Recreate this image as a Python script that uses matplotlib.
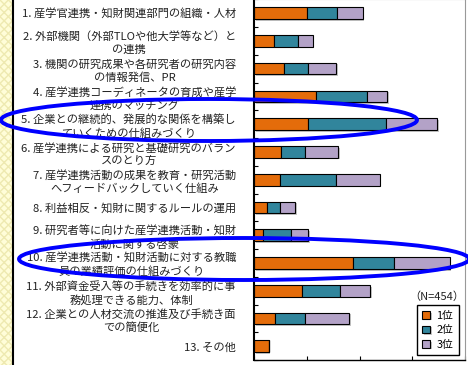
import numpy as np
import matplotlib
matplotlib.use('Agg')
import matplotlib.pyplot as plt
import matplotlib.patches as mpatches
import matplotlib.patheffects as pe
from matplotlib.lines import Line2D

plt.rcParams['font.family'] = ['Noto Sans CJK JP', 'DejaVu Sans']

# ---- data (percent of N=454) ----
labels = [
    '1. 産学官連携・知財関連部門の組織・人材',
    '2. 外部機関（外部TLOや他大学等など）と\nの連携',
    '3. 機関の研究成果や各研究者の研究内容\nの情報発信、PR',
    '4. 産学連携コーディネータの育成や産学\n連携のマッチング',
    '5. 企業との継続的、発展的な関係を構築し\nていくための仕組みづくり',
    '6. 産学連携による研究と基礎研究のバラン\nスのとり方',
    '7. 産学連携活動の成果を教育・研究活動\nへフィードバックしていく仕組み',
    '8. 利益相反・知財に関するルールの運用',
    '9. 研究者等に向けた産学連携活動・知財\n活動に関する啓蒙',
    '10. 産学連携活動・知財活動に対する教職\n員の業績評価の仕組みづくり',
    '11. 外部資金受入等の手続きを効率的に事\n務処理できる能力、体制',
    '12. 企業との人材交流の推進及び手続き面\nでの簡便化',
    '13. その他',
]
rank1 = [10.1, 3.7, 5.7, 11.7, 10.2, 5.1, 4.9, 2.5, 1.7, 18.8, 9.1, 4.0, 2.8]
rank2 = [5.7, 4.6, 4.5, 9.7, 14.9, 4.6, 10.6, 2.5, 5.3, 7.7, 7.2, 5.6, 0.0]
rank3 = [4.8, 2.8, 5.4, 3.9, 9.6, 6.2, 8.3, 2.8, 3.3, 10.6, 5.7, 8.5, 0.0]
series_names = ['1位', '2位', '3位']
colors = ['#E46C0A', '#31859C', '#B3A2C7']
n_text = '（N=454）'

W, H = 468, 365
fig = plt.figure(figsize=(W / 100, H / 100), dpi=100)
fig.patch.set_facecolor('white')

# yellow hatched strip on the far left + black border line
strip = mpatches.Rectangle((0, 0), 12 / W, 1, transform=fig.transFigure,
                           facecolor='#FFFDD8', edgecolor='#EEE9B0',
                           hatch='xxxx', lw=0, zorder=0)
fig.add_artist(strip)
fig.add_artist(Line2D([12.5 / W] * 2, [0, 1], transform=fig.transFigure,
                      color='black', lw=1.5))

ax = fig.add_axes([254 / W, 4.8 / H, 211 / W, 361 / H])

y = np.arange(len(labels))
left = np.zeros(len(labels))
shadow = [pe.SimplePatchShadow(offset=(1.2, -1.2), shadow_rgbFace='gray', alpha=0.45), pe.Normal()]
for vals, c, name in zip([rank1, rank2, rank3], colors, series_names):
    vals = np.array(vals)
    ax.barh(y, vals, left=left, height=0.42, color=c, edgecolor='black',
            lw=0.8, label=name, path_effects=shadow)
    left += vals

ax.set_ylim(len(labels) - 0.5, -0.5)
ax.set_xlim(0, 40)
ax.set_yticks(y)
ax.set_yticklabels(labels, fontsize=8.1, color='#222222', linespacing=1.3)
for t in ax.get_yticklabels():
    t.set_multialignment('center')
ax.tick_params(axis='y', which='major', length=0, pad=13)
ax.set_yticks(np.arange(-0.5, len(labels), 1), minor=True)
ax.tick_params(axis='y', which='minor', direction='in', length=3, width=0.8)
ax.set_xticks(range(0, 41, 10))
ax.tick_params(axis='x', direction='in', length=3, width=0.8, labelbottom=False)

ax.spines['left'].set_linewidth(1.5)
ax.spines['bottom'].set_linewidth(1.0)
ax.spines['right'].set_color('#999999')
ax.spines['top'].set_color('#999999')

ax.legend(loc='upper left', bbox_to_anchor=(417 / W, 1 - 305 / H),
          bbox_transform=fig.transFigure, fontsize=7.8, frameon=True,
          fancybox=False, edgecolor='black', framealpha=1, borderpad=0.5,
          handlelength=0.7, handleheight=0.7, handletextpad=0.6,
          labelspacing=0.42, borderaxespad=0)

fig.text(437 / W, 1 - 297 / H, n_text, ha='center', va='center',
         fontsize=8, color='#222222')

# blue hand-drawn style ellipses
for cx, cy, w, h in [(209, 120, 416, 42), (244, 259, 450, 42)]:
    fig.add_artist(mpatches.Ellipse((cx / W, 1 - cy / H), w / W, h / H,
                                    transform=fig.transFigure, fill=False,
                                    edgecolor='#0000FF', lw=2.8, zorder=10))

fig.savefig('out.png', dpi=100)
